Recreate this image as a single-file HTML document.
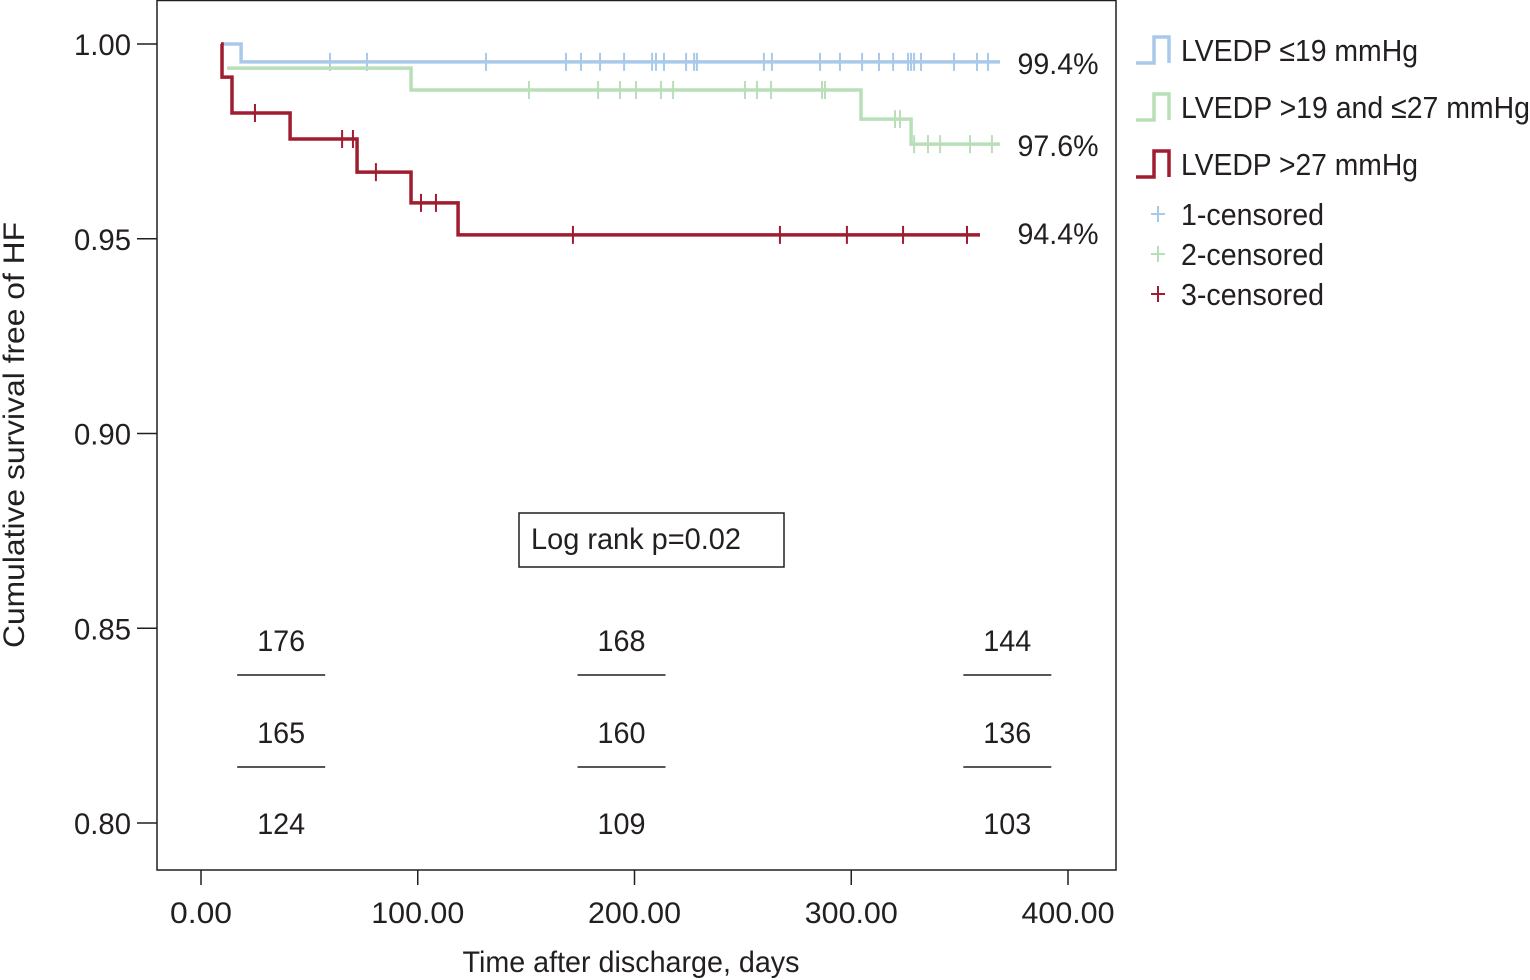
<!DOCTYPE html>
<html><head><meta charset="utf-8"><style>
html,body{margin:0;padding:0;background:#fff;}
svg{display:block;font-family:"Liberation Sans Narrow","Liberation Sans",sans-serif;fill:#231f20;}
text{fill:#231f20;}
</style></head><body>
<svg id="chart" width="1530" height="980" viewBox="0 0 1530 980" xmlns="http://www.w3.org/2000/svg">
<rect x="157" y="0.5" width="959" height="869.5" fill="none" stroke="#231f20" stroke-width="1.5"/>
<g id="axes"></g>
<g id="series"></g>
<text transform="translate(24,435) rotate(-90)" text-anchor="middle" font-size="30" textLength="426" lengthAdjust="spacingAndGlyphs">Cumulative survival free of HF</text>
<text x="631" y="972" text-anchor="middle" font-size="30" textLength="337" lengthAdjust="spacingAndGlyphs">Time after discharge, days</text>
<rect x="519" y="513" width="265" height="54" fill="#fff" stroke="#231f20" stroke-width="1.5"/>
<text x="531" y="549" font-size="30" textLength="210" lengthAdjust="spacingAndGlyphs">Log rank p=0.02</text>
<g id="risk"></g>
<g id="legend"></g>
</svg>
<script>
const xTicks=[0,100,200,300,400];
const xTickLabels=["0.00","100.00","200.00","300.00","400.00"];
const yTicks=[1.00,0.95,0.90,0.85,0.80];
const yTickLabels=["1.00","0.95","0.90","0.85","0.80"];
const seriesNames=["LVEDP \u226419 mmHg","LVEDP >19 and \u226427 mmHg","LVEDP >27 mmHg"];
const seriesColors=["#a9c9ea","#b9dfb9","#a01c30"];
const blueTimes=[9.7,18.5,368.6];
const blueSurv=[1.0,0.9954,0.9954];
const greenTimes=[12.0,96.9,304.5,327.6,368.6];
const greenSurv=[0.9938,0.9882,0.9807,0.9743,0.9743];
const redTimes=[9.2,9.7,14.3,41.1,72.0,96.9,118.6,359.4];
const redSurv=[1.0,0.9915,0.9823,0.9756,0.9671,0.9592,0.951,0.951];
const blueCensor=[59.5,76.6,131.5,168.4,175.3,184.1,195.2,208.1,209.9,213.6,223.8,227.5,228.8,259.7,263.4,285.6,294.8,305.0,312.8,319.3,326.2,327.6,329.0,332.2,347.4,358.0,363.1];
const greenCensor=[151.3,183.2,193.3,200.7,212.2,217.8,251.0,256.5,263.0,286.5,287.9,320.2,322.5,329.0,335.4,341.0,354.8,364.9];
const redCensor=[24.9,65.1,70.1,80.7,101.5,108.4,171.6,267.1,298.0,323.9,353.4];
const finalLabels=["99.4%","97.6%","94.4%"];
const riskTimes=[37,194,372];
const riskCounts=[[176,168,144],[165,160,136],[124,109,103]];

const NS="http://www.w3.org/2000/svg";
const X=d=>201+d*2.1675;
const Y=v=>44+(1-v)*3895;
function mk(tag,attrs,parent){const e=document.createElementNS(NS,tag);for(const k in attrs)e.setAttribute(k,attrs[k]);parent.appendChild(e);return e;}
const axes=document.getElementById('axes');
xTicks.forEach((t,i)=>{
  const l=mk('line',{x1:X(t),x2:X(t),y1:870,y2:885,stroke:'#231f20','stroke-width':1.5},axes);
  
  
  const w=xTickLabels[i].length*15.5;
  const tx=mk('text',{x:X(t),y:923,'text-anchor':'middle','font-size':30,textLength:w,lengthAdjust:'spacingAndGlyphs'},axes);
  tx.textContent=xTickLabels[i];
  
  
});
yTicks.forEach((t,i)=>{
  const l=mk('line',{x1:137,x2:157,y1:Y(t),y2:Y(t),stroke:'#231f20','stroke-width':1.5},axes);
  
  
  const tx=mk('text',{x:131,y:Y(t)+11,'text-anchor':'end','font-size':30,textLength:57,lengthAdjust:'spacingAndGlyphs'},axes);
  tx.textContent=yTickLabels[i];
  
  
});
const sg=document.getElementById('series');
function stepPath(ts,ss){let d=`M${X(ts[0])},${Y(ss[0])}`;for(let i=1;i<ts.length;i++){d+=` H${X(ts[i])} V${Y(ss[i])}`;}return d;}
function survAt(ts,ss,t){let v=ss[0];for(let i=0;i<ts.length;i++){if(ts[i]<=t)v=ss[i];}return v;}
const allT=[blueTimes,greenTimes,redTimes],allS=[blueSurv,greenSurv,redSurv],allC=[blueCensor,greenCensor,redCensor];
const names=['blue','green','red'];
const labelOffsets=[12,12,9];
[0,1,2].forEach(k=>{
  const p=mk('path',{d:stepPath(allT[k],allS[k]),fill:'none',stroke:seriesColors[k],'stroke-width':3.5},sg);
  
  
  allC[k].forEach(c=>{
    const y=Y(survAt(allT[k],allS[k],c));
    const m=mk('path',{d:`M${X(c)},${y-9} V${y+9} M${X(c)-4},${y} H${X(c)+4}`,stroke:seriesColors[k],'stroke-width':2},sg);
    
    
  });
  const last=allS[k][allS[k].length-1];
  const lt=mk('text',{x:1058,y:Y(last)+labelOffsets[k],'text-anchor':'middle','font-size':30,textLength:81,lengthAdjust:'spacingAndGlyphs'},sg);
  lt.textContent=finalLabels[k];
  
  
});
const rg=document.getElementById('risk');
const riskY=[651,743,834];
riskCounts.forEach((row,r)=>{
  row.forEach((n,c)=>{
    const cx=X(riskTimes[c]);
    const t=mk('text',{x:cx,y:riskY[r],'text-anchor':'middle','font-size':30,textLength:48,lengthAdjust:'spacingAndGlyphs'},rg);
    t.textContent=n;
    
    
    if(r<2){
      const l=mk('line',{x1:cx-44,x2:cx+44,y1:riskY[r]+24,y2:riskY[r]+24,stroke:'#231f20','stroke-width':1.5},rg);
      
      
    }
  });
});
const lg=document.getElementById('legend');
const legY=[63,120,177];
const legW=[237,349,237];
seriesNames.forEach((nm,k)=>{
  const y=legY[k];
  const ic=mk('path',{d:`M1136,${y} H1154 V${y-26} H1169 V${y}`,fill:'none',stroke:seriesColors[k],'stroke-width':3.5},lg);
  
  
  const t=mk('text',{x:1181,y:y-2,'font-size':31,textLength:legW[k],lengthAdjust:'spacingAndGlyphs'},lg);
  t.textContent=nm;
  
  
});
const cenY=[214,254,294];
[0,1,2].forEach(k=>{
  const y=cenY[k];
  const m=mk('path',{d:`M1158,${y-8} V${y+8} M1151,${y} H1165`,stroke:seriesColors[k],'stroke-width':2},lg);
  
  
  const t=mk('text',{x:1181,y:y+11,'font-size':31,textLength:143,lengthAdjust:'spacingAndGlyphs'},lg);
  t.textContent=(k+1)+'-censored';
  
  
});
</script>
</body></html>
